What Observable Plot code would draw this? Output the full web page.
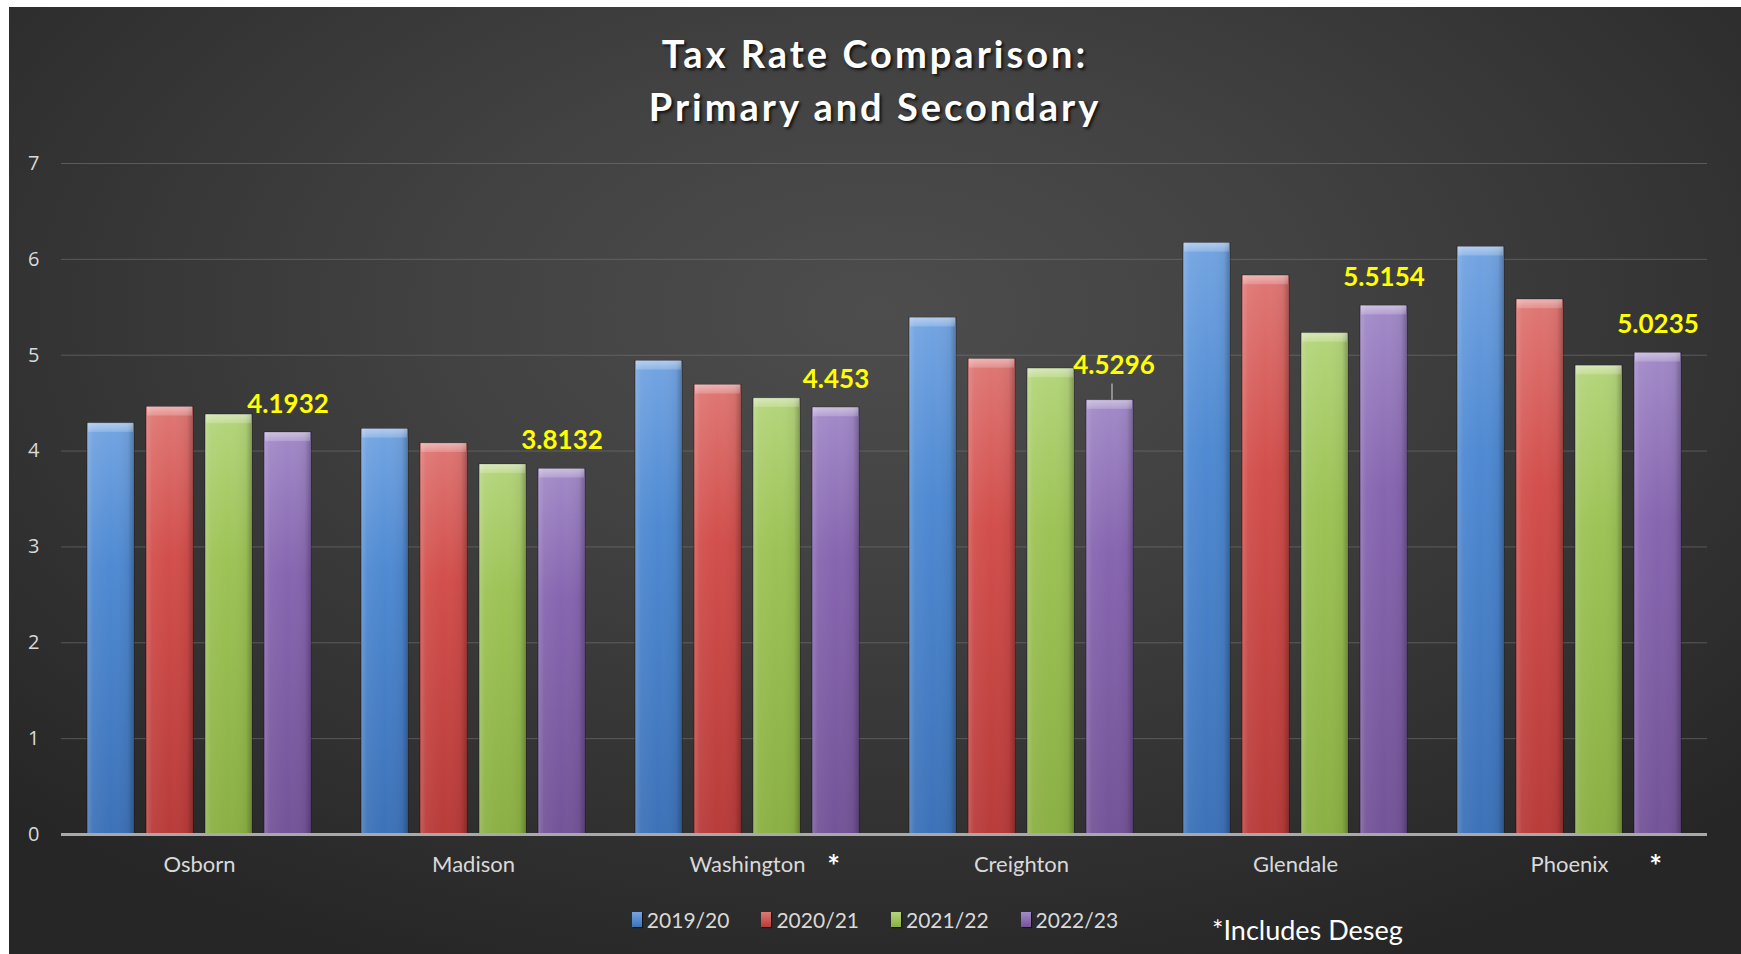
<!DOCTYPE html>
<html>
<head>
<meta charset="utf-8">
<script src="https://cdn.jsdelivr.net/npm/d3@7"></script>
<script src="https://cdn.jsdelivr.net/npm/@observablehq/plot@0.6"></script>
<style>
  html, body { margin: 0; padding: 0; background: #ffffff; width: 1741px; height: 954px; overflow: hidden; }
  #chart {
    position: absolute; left: 9px; top: 7px; width: 1732px; height: 947px; overflow: hidden;
    background: radial-gradient(ellipse 70% 75% at 50% 32%, #4d4d4d 0%, #424242 35%, #333333 70%, #262626 100%);
    font-family: Lato, "Open Sans", sans-serif;
  }
  #title {
    position: absolute; left: 0; top: 20px; width: 100%; text-align: center;
    color: #ffffff; font-weight: 700; font-size: 38px; line-height: 53px; letter-spacing: 3px;
    text-shadow: 2px 2px 3px rgba(0,0,0,0.75);
  }
  .layer { position: absolute; left: 0; top: 133px; }
  .layer svg { display: block; }
  #legend {
    position: absolute; left: 0; width: 100%; top: 898px; height: 28px;
    display: flex; justify-content: center; align-items: center; gap: 32px;
    color: #d9d9d9; font-size: 21px;
  }
  .item { display: flex; align-items: center; gap: 5px; }
  .sw { width: 10px; height: 15px; display: inline-block; box-shadow: 1px 1px 1px rgba(0,0,0,0.5); }
  #note { position: absolute; left: 1203px; top: 906px; color: #ffffff; font-size: 27px; }
</style>
</head>
<body>
<div id="chart">
  <div id="title">Tax Rate Comparison:<br>Primary and Secondary</div>
  <div id="back" class="layer"></div>
  <div id="front" class="layer"></div>
  <div id="over" class="layer"></div>
  <div id="legend"></div>
  <div id="note">*Includes Deseg</div>
</div>
<script>
// ---- data ----
const cities = ["Osborn", "Madison", "Washington", "Creighton", "Glendale", "Phoenix"];
const seasons = ["2019/20", "2020/21", "2021/22", "2022/23"];
const rate2019 = [4.29, 4.23, 4.94, 5.39, 6.17, 6.13];
const rate2020 = [4.46, 4.08, 4.69, 4.96, 5.83, 5.58];
const rate2021 = [4.38, 3.86, 4.55, 4.86, 5.23, 4.89];
const rate2022 = [4.1932, 3.8132, 4.453, 4.5296, 5.5154, 5.0235];
const yTicks = [0, 1, 2, 3, 4, 5, 6, 7];
const desegCities = ["Washington", "Phoenix"];
const labelledSeason = "2022/23";
const leaderCity = "Creighton";

// ---- styles ----
const seasonColors = [
  ["#74a5e2", "#4f8ad2", "#3d72b8"],
  ["#df7875", "#d24f4c", "#b83c3a"],
  ["#b5d57c", "#9dc356", "#8bb044"],
  ["#a28bc8", "#8766b0", "#745498"]
];

const series = [rate2019, rate2020, rate2021, rate2022];
const rows = [];
cities.forEach((c, i) => seasons.forEach((s, j) => rows.push({city: c, season: s, value: series[j][i]})));
const labelled = rows.filter(d => d.season === labelledSeason && d.city !== leaderCity);
const leader = rows.filter(d => d.season === labelledSeason && d.city === leaderCity);

const common = {
  width: 1732, height: 750,
  marginTop: 23, marginBottom: 56, marginLeft: 52, marginRight: 34,
  style: {background: "transparent", color: "#d9d9d9", fontFamily: "Lato, 'Open Sans', sans-serif", overflow: "visible"},
  y: {domain: [0, 7], axis: null}
};

// background: grid and y labels
const back = Plot.plot({
  ...common,
  marks: [
    Plot.gridY(yTicks, {stroke: "#7a7a7a", strokeOpacity: 0.55, strokeWidth: 1}),
    Plot.axisY(yTicks, {tickSize: 0, tickPadding: 22, fontSize: 20, fill: "#d9d9d9", fontFamily: "'Open Sans', sans-serif", tickFormat: d => String(d), label: null})
  ]
});

// front: grouped bars
const front = Plot.plot({
  ...common,
  fx: {domain: cities, paddingInner: 0.174, paddingOuter: 0.087, label: null, axis: null},
  x: {domain: seasons, paddingInner: 0.2, paddingOuter: 0, axis: null},
  color: {domain: seasons, range: seasons.map((s, i) => `url(#grad${i})`)},
  marks: [
    Plot.barY(rows, {fx: "city", x: "season", y: "value", fill: "season", stroke: "rgba(0,0,0,0.35)", strokeWidth: 1}),
    Plot.barY(rows, {fx: "city", x: "season", y: "value", fill: "url(#hshade)", insetLeft: 0.5, insetRight: 0.5}),
    Plot.barY(rows, {fx: "city", x: "season", y1: d => d.value - 0.095, y2: "value", fill: "url(#cap)", insetLeft: 1, insetRight: 1}),
    Plot.text(labelled, {fx: "city", x: "season", y: "value", text: d => String(d.value), dy: -20, lineAnchor: "bottom", fill: "#ffff00", fontSize: 26, fontWeight: "bold"}),
    Plot.text(leader, {fx: "city", x: "season", y: "value", text: d => String(d.value), dy: -26, dx: 4, lineAnchor: "bottom", fill: "#ffff00", fontSize: 26, fontWeight: "bold"}),
    Plot.ruleX(leader, {fx: "city", x: "season", y1: "value", y2: d => d.value + 0.17, stroke: "#bfbfbf", strokeWidth: 1.2, dx: 2}),
    Plot.axisFx({anchor: "bottom", tickSize: 0, tickPadding: 22, fontSize: 22, fill: "#d9d9d9", label: null}),
    Plot.text(desegCities, {fx: d => d, frameAnchor: "bottom", text: () => "*", dx: 86, dy: 42, fill: "#ffffff", fontSize: 30, fontWeight: "bold"})
  ]
});

// overlay: baseline
const over = Plot.plot({
  ...common,
  marks: [Plot.ruleY([0], {stroke: "#a9a9a9", strokeWidth: 3})]
});

const defs = seasonColors.map((c, i) =>
  `<linearGradient id="grad${i}" x1="0" y1="0" x2="0" y2="1">
     <stop offset="0" stop-color="${c[0]}"/>
     <stop offset="0.35" stop-color="${c[1]}"/>
     <stop offset="1" stop-color="${c[2]}"/>
   </linearGradient>`).join("") +
  `<linearGradient id="hshade" x1="0" y1="0" x2="1" y2="0">
     <stop offset="0" stop-color="#ffffff" stop-opacity="0.18"/>
     <stop offset="0.12" stop-color="#ffffff" stop-opacity="0.05"/>
     <stop offset="0.5" stop-color="#ffffff" stop-opacity="0"/>
     <stop offset="0.88" stop-color="#000000" stop-opacity="0.05"/>
     <stop offset="1" stop-color="#000000" stop-opacity="0.25"/>
   </linearGradient>
   <linearGradient id="cap" x1="0" y1="0" x2="0" y2="1">
     <stop offset="0" stop-color="#ffffff" stop-opacity="0.45"/>
     <stop offset="1" stop-color="#ffffff" stop-opacity="0.18"/>
   </linearGradient>`;
front.insertAdjacentHTML("afterbegin", `<defs>${defs}</defs>`);
document.getElementById("back").appendChild(back);
document.getElementById("front").appendChild(front);
document.getElementById("over").appendChild(over);

const legend = document.getElementById("legend");
seasons.forEach((s, i) => {
  const it = document.createElement("div");
  it.className = "item";
  it.innerHTML = `<span class="sw" style="background:linear-gradient(${seasonColors[i][0]}, ${seasonColors[i][2]})"></span><span>${s}</span>`;
  legend.appendChild(it);
});
</script>
</body>
</html>
